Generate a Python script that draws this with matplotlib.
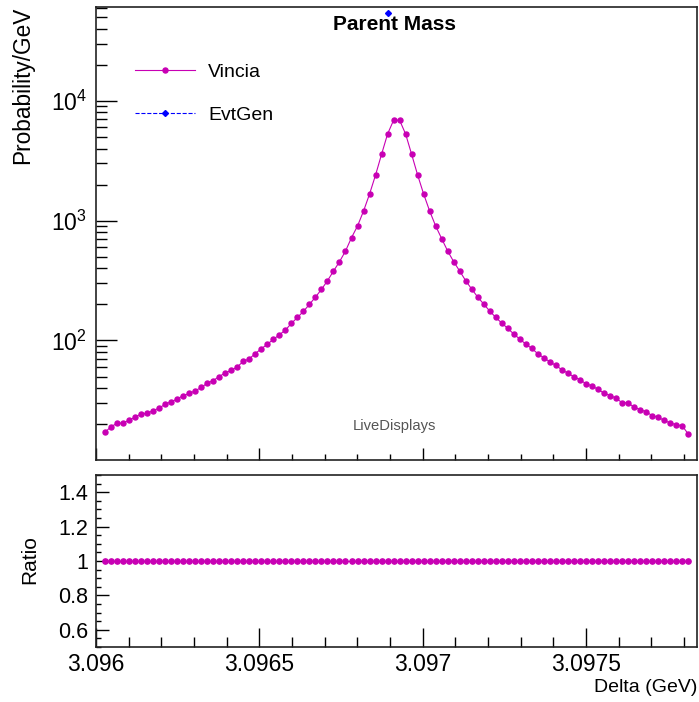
import numpy as np
import matplotlib
matplotlib.use("Agg")
import matplotlib.pyplot as plt
from matplotlib.ticker import FixedLocator, MultipleLocator, LogLocator, NullFormatter

plt.rcParams['font.family'] = ['Liberation Sans', 'DejaVu Sans']
plt.rcParams['mathtext.fontset'] = 'custom'
plt.rcParams['mathtext.rm'] = 'Liberation Sans'

# ---- data ----
bin_lo = 3.0960184
bin_width = 1.8406e-5
n_bins = 98

vincia = [
    17.1, 19.1, 20.3, 20.5, 21.6, 22.9, 24.4, 24.6, 26.0, 27.2,
    29.4, 30.8, 32.4, 34.7, 36.1, 38.0, 40.5, 44.0, 46.3, 50.0,
    53.7, 56.2, 60.3, 66.8, 70.3, 77.8, 85.2, 93.1, 102, 111.6,
    122, 138.7, 155.6, 174.7, 200, 230, 266.6, 315, 379, 454,
    557, 721, 902, 1202, 1667, 2402, 3580, 5287, 6887, 6887,
    5287, 3580, 2402, 1667, 1202, 902, 707, 557, 454, 379,
    315, 268, 230, 201, 175.7, 155.6, 139.5, 126, 113, 102.6,
    93.1, 85.7, 77.4, 71.6, 66.3, 61.8, 56.9, 53.3, 49.7, 47.0,
    43.5, 41.8, 39.0, 36.3, 34.7, 33.0, 30.2, 30.2, 27.7, 26.5,
    25.4, 23.6, 22.9, 21.5, 20.5, 19.8, 19.4, 16.6,
]
evtgen_bin = 47
evtgen_value = 54300
ratio = [1.0] * n_bins

x_ticks_major = [3.096, 3.0965, 3.097, 3.0975]
x_tick_labels = ["3.096", "3.0965", "3.097", "3.0975"]
ratio_ticks = [0.6, 0.8, 1.0, 1.2, 1.4]
ratio_tick_labels = ["0.6", "0.8", "1", "1.2", "1.4"]

centers = bin_lo + (np.arange(n_bins) + 0.5) * bin_width

# ---- figure ----
W, H = 699, 702
fig = plt.figure(figsize=(W / 100, H / 100), dpi=100)

def axrect(l, t, r, b):
    return [l / W, 1 - b / H, (r - l) / W, (b - t) / H]

ax = fig.add_axes(axrect(96, 7, 697, 460))
axr = fig.add_axes(axrect(96, 475, 697, 647))

mag = '#c800b4'
xlim = (3.096, 3.09784)

ln_v, = ax.plot(centers, vincia, '-', color=mag, lw=0.8, marker='o', ms=3.6,
                mec=mag, mfc=mag, label='Vincia')
ln_e, = ax.plot([centers[evtgen_bin]], [evtgen_value], '--', color='#0000ff', lw=0.8,
                marker='D', ms=3.0, mec='#0000ff', mfc='#0000ff', label='EvtGen',
                clip_on=False)

ax.set_yscale('log')
ax.set_xlim(*xlim)
ax.set_ylim(10.05, 6.07e4)

axr.plot(centers, ratio, '-', color=mag, lw=0.8, marker='o', ms=3.8, mec=mag, mfc=mag)
axr.set_xlim(*xlim)
axr.set_ylim(0.5, 1.5)

for a in (ax, axr):
    for s in a.spines.values():
        s.set_linewidth(1.2)
        s.set_color('#222222')
    a.xaxis.set_major_locator(FixedLocator(x_ticks_major))
    a.xaxis.set_minor_locator(MultipleLocator(0.0001))

ax.tick_params(axis='x', which='both', direction='in', top=False, labelbottom=False)
ax.tick_params(axis='x', which='major', length=8.4, width=1.0)
ax.tick_params(axis='x', which='minor', length=4.3, width=1.0)
ax.yaxis.set_major_locator(LogLocator(base=10))
ax.yaxis.set_minor_locator(LogLocator(base=10, subs=np.arange(2, 10)))
ax.yaxis.set_minor_formatter(NullFormatter())
ax.tick_params(axis='y', which='both', direction='in', right=False, labelsize=16.5, pad=6.5)
ax.tick_params(axis='y', which='major', length=15, width=1.0)
ax.tick_params(axis='y', which='minor', length=7.7, width=1.0)

axr.set_xticklabels(x_tick_labels)
axr.tick_params(axis='x', which='both', direction='in', top=False, labelsize=16.5, pad=4)
axr.tick_params(axis='x', which='major', length=14, width=1.0)
axr.tick_params(axis='x', which='minor', length=7, width=1.0)
axr.yaxis.set_major_locator(FixedLocator(ratio_ticks))
axr.set_yticklabels(ratio_tick_labels)
axr.yaxis.set_minor_locator(MultipleLocator(0.05))
axr.tick_params(axis='y', which='both', direction='in', right=False, labelsize=15.5, pad=5.8)
axr.tick_params(axis='y', which='major', length=9, width=1.0)
axr.tick_params(axis='y', which='minor', length=3.6, width=1.0)

# texts
fig.text(23 / W, 1 - 7 / H, 'Probability/GeV', rotation=90, ha='center', va='top', fontsize=16.3)
fig.text(29.5 / W, 1 - 560 / H, 'Ratio', rotation=90, ha='center', va='center', fontsize=15)
fig.text(697 / W, 1 - 688 / H, 'Delta (GeV)', ha='right', va='center', fontsize=14)
fig.text(395 / W, 1 - 24 / H, 'Parent Mass', ha='center', va='center', fontsize=15,
         fontweight='bold')
fig.text(394.5 / W, 1 - 426 / H, 'LiveDisplays', ha='center', va='center', fontsize=10.6,
         color='#555555')

leg = ax.legend(handles=[ln_v, ln_e], loc='upper left',
                bbox_to_anchor=(135 / W, 1 - 63 / H), bbox_transform=fig.transFigure,
                frameon=False, fontsize=14, handlelength=3.1, handletextpad=0.65,
                labelspacing=1.3, borderpad=0, borderaxespad=0, numpoints=1)

fig.savefig('out.png', dpi=100)
